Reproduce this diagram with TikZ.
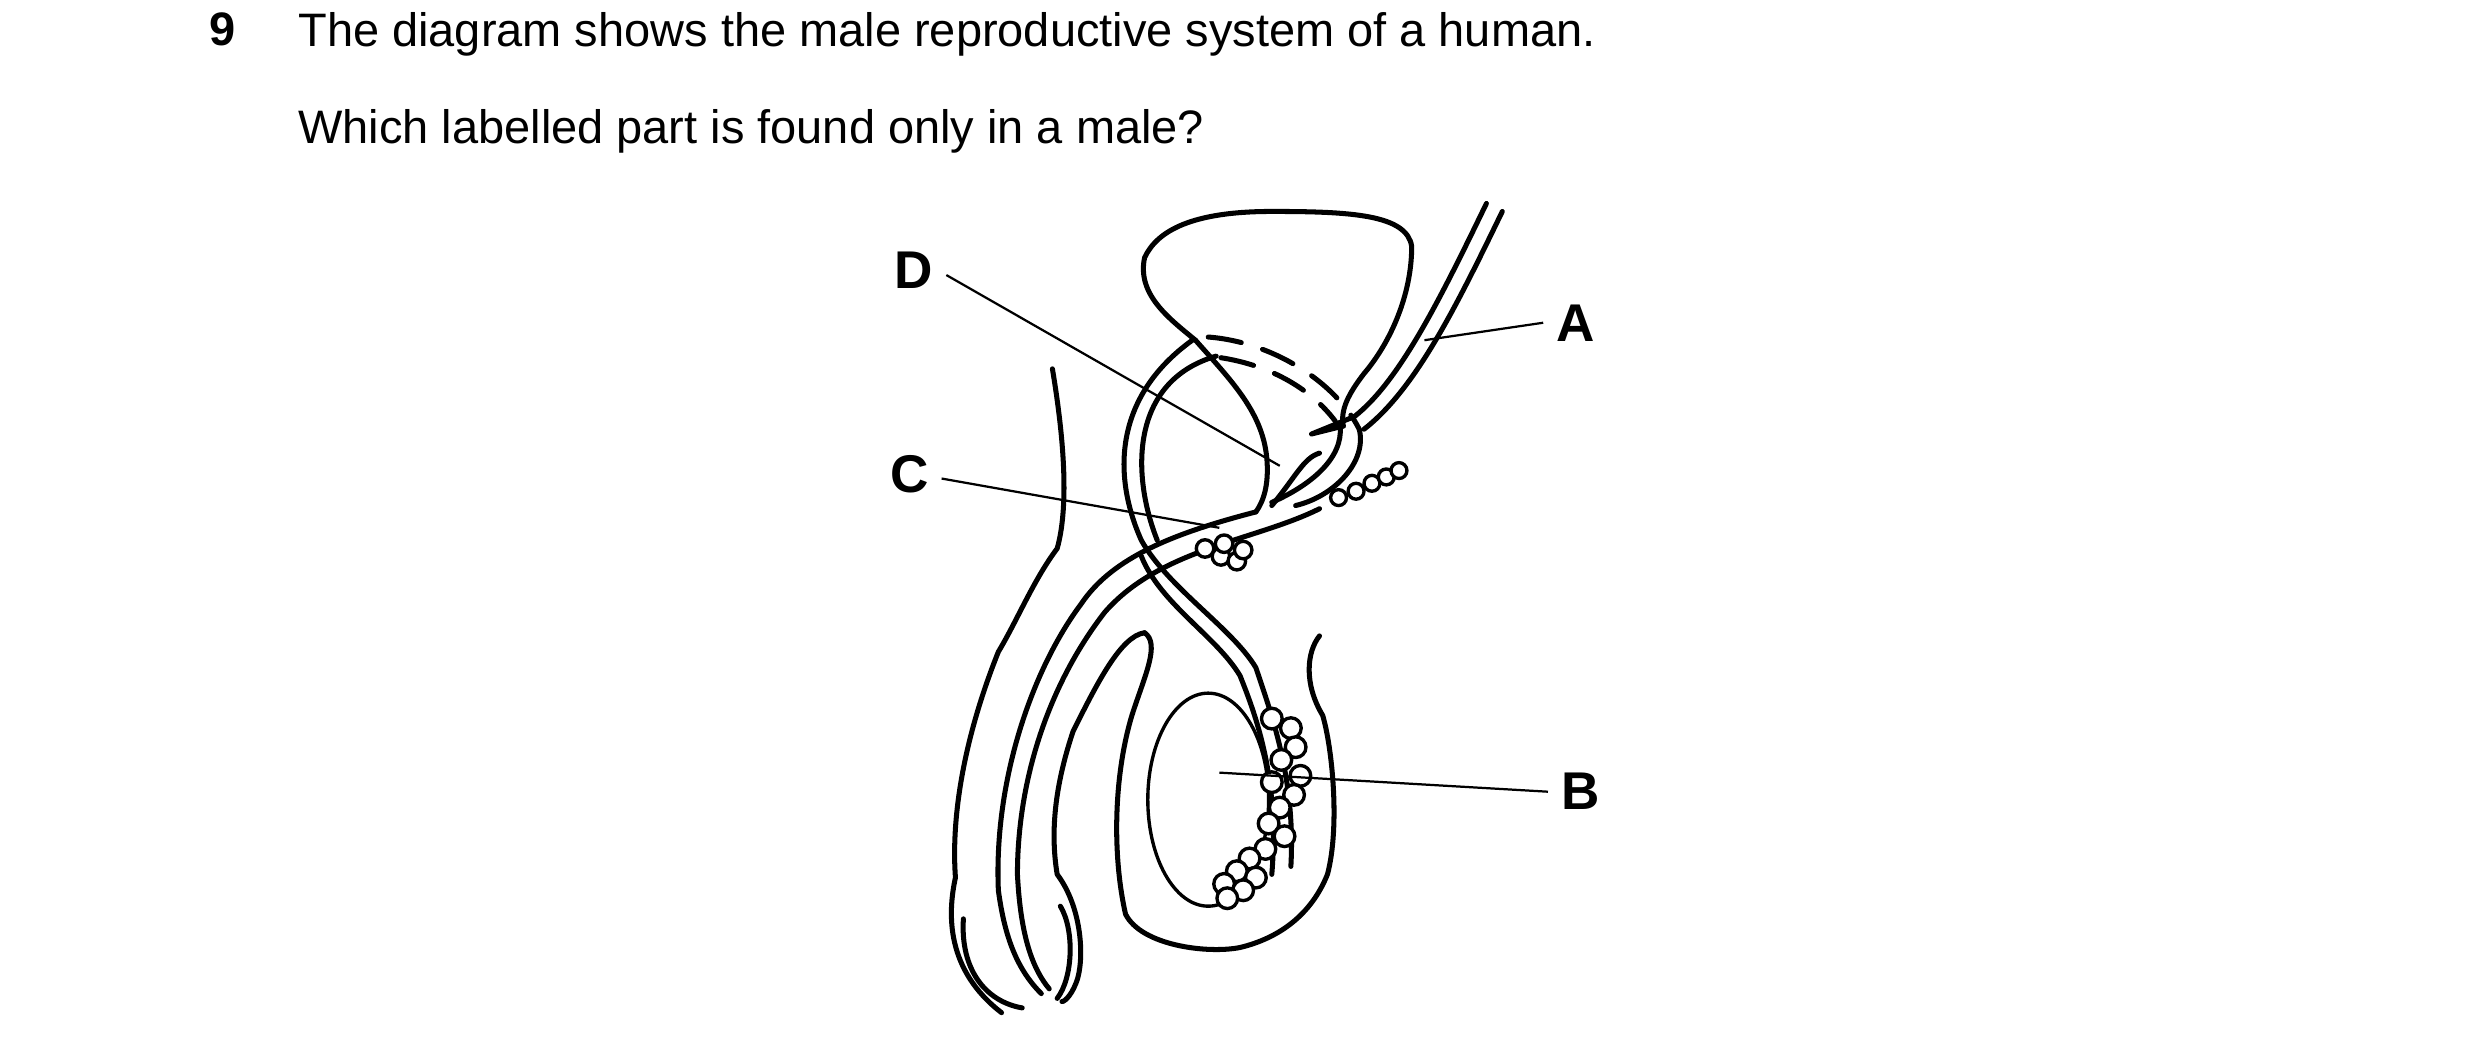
\documentclass[tikz,border=0pt]{standalone}
\usepackage{fontspec}
\setmainfont{Liberation Sans}
\usetikzlibrary{positioning}

\begin{document}
\begin{tikzpicture}[x=0.01cm,y=-0.01cm,
	organ/.style={line width=0.9pt,line join=round,line cap=round},
	pointer/.style={line width=0.4pt},
	lab/.style={font=\bfseries\fontsize{9.5}{11}\selectfont,inner sep=1pt}]

	\useasboundingbox (0,0) rectangle (1560,660);

	\node[anchor=north west,font=\bfseries\fontsize{8.4}{10}\selectfont,inner sep=0pt] (num) at (131,7) {9};
	\node[anchor=north west,font=\fontsize{8.4}{10}\selectfont,inner sep=0pt] (q1) at (187,7) {The diagram shows the male reproductive system of a human.};
	\node[anchor=north west,font=\fontsize{8.4}{10}\selectfont,inner sep=0pt] (q2) at (187,68) {Which labelled part is found only in a male?};

	% bladder
	\draw[organ] (752,214) .. controls (735,200) and (715,185) .. (720,162)
		.. controls (728,145) and (750,133) .. (800,133)
		.. controls (850,133) and (885,135) .. (888,155)
		.. controls (888,185) and (875,215) .. (858,235)
		.. controls (848,248) and (843,258) .. (845,268);
	\draw[organ] (752,214) .. controls (775,240) and (795,260) .. (797,290)
		.. controls (798,305) and (795,315) .. (790,322);
	% ureter
	\draw[organ] (935,128) .. controls (905,190) and (880,240) .. (852,262);
	\draw[organ] (945,133) .. controls (915,195) and (890,245) .. (858,270);
	\draw[organ] (852,262) -- (825,273) -- (845,268);
	% vas deferens
	\draw[organ] (812,545) .. controls (815,490) and (800,450) .. (790,420)
		.. controls (775,395) and (735,370) .. (718,340)
		.. controls (700,300) and (700,250) .. (750,214);
	\draw[organ] (800,550) .. controls (805,490) and (790,450) .. (780,425)
		.. controls (765,400) and (730,380) .. (718,350);
	\draw[organ] (728,340) .. controls (712,300) and (710,240) .. (765,224);
	\draw[organ,dashed,dash pattern=on 6pt off 4pt] (760,212) .. controls (800,215) and (840,240) .. (855,270);
	\draw[organ,dashed,dash pattern=on 6pt off 4pt] (768,225) .. controls (800,230) and (825,245) .. (840,265);
	\draw[organ] (855,270) .. controls (860,290) and (840,312) .. (815,318);
	\draw[organ] (843,268) .. controls (845,288) and (825,305) .. (800,316);
	\draw[organ] (830,285) .. controls (820,288) and (815,300) .. (800,318);
	% urethra
	\draw[organ] (790,322) .. controls (740,335) and (700,350) .. (680,380)
		.. controls (650,420) and (625,490) .. (628,560)
		.. controls (632,590) and (640,610) .. (655,625);
	\draw[organ] (830,320) .. controls (790,340) and (730,345) .. (695,385)
		.. controls (660,430) and (640,490) .. (640,550)
		.. controls (642,590) and (650,610) .. (660,622);
	% penis
	\draw[organ] (662,232) .. controls (670,280) and (672,320) .. (665,345)
		.. controls (650,365) and (640,390) .. (628,410)
		.. controls (608,460) and (598,510) .. (601,552)
		.. controls (596,575) and (595,610) .. (630,637);
	\draw[organ] (606,578) .. controls (604,610) and (620,630) .. (643,634);
	\draw[organ] (667,570) .. controls (676,585) and (675,615) .. (665,628);
	\draw[organ] (720,398) .. controls (730,405) and (720,425) .. (712,450)
		.. controls (700,490) and (700,540) .. (708,575)
		.. controls (718,595) and (760,600) .. (780,596)
		.. controls (805,590) and (825,575) .. (835,550)
		.. controls (843,520) and (838,470) .. (832,450)
		.. controls (820,430) and (822,410) .. (830,400);
	\draw[organ] (720,398) .. controls (705,400) and (690,430) .. (675,460)
		.. controls (665,490) and (660,520) .. (665,550)
		.. controls (680,570) and (682,600) .. (678,615)
		.. controls (675,625) and (670,630) .. (668,630);
	% testis
	\draw[line width=0.6pt] (760,503) ellipse (38 and 67);
	% epididymis, glands
	\foreach \p in {(800,452),(812,458),(815,470),(806,478),(818,488),(800,492),(814,500),(805,508),(798,518),(808,526),(796,534),(786,540),(778,548),(790,552),(770,556),(782,560),(772,565)}
		\draw[line width=0.6pt,fill=white] \p circle (6.5);
	\foreach \p in {(758,345),(768,350),(778,353),(770,342),(782,346)}
		\draw[line width=0.6pt,fill=white] \p circle (5.5);
	\foreach \p in {(842,313),(853,309),(863,304),(872,300),(880,296)}
		\draw[line width=0.6pt,fill=white] \p circle (5);

	% labels
	\node[lab] (D) at (575,170) {D};
	\node[lab] (C) at (572,298) {C};
	\node[lab] (A) at (991,203) {A};
	\node[lab] (B) at (994,498) {B};
	\coordinate (dEnd) at (805,293);
	\coordinate (cEnd) at (767,332);
	\coordinate (aEnd) at (896,214);
	\coordinate (bEnd) at (767,486);
	\draw[pointer] (D.east) ++(4,3) -- (dEnd);
	\draw[pointer] (C.east) ++(4,3) -- (cEnd);
	\draw[pointer] (A.west) ++(-4,0) -- (aEnd);
	\draw[pointer] (B.west) ++(-4,0) -- (bEnd);
\end{tikzpicture}
\end{document}
